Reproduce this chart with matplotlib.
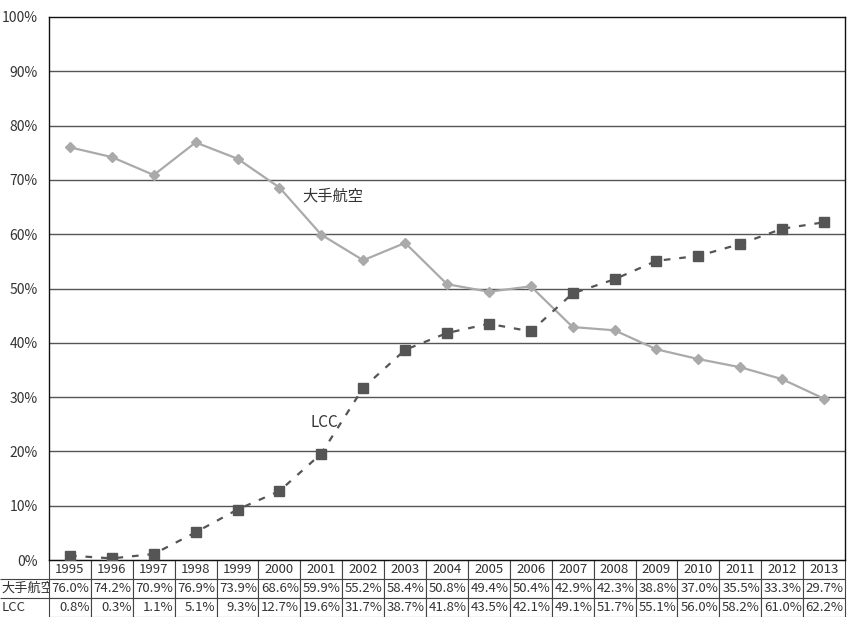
import matplotlib
matplotlib.use("Agg")
import matplotlib.pyplot as plt
from matplotlib.table import Table

plt.rcParams['font.family'] = ['Noto Sans CJK JP', 'DejaVu Sans']

years = [str(y) for y in range(1995, 2014)]
major = [76.0, 74.2, 70.9, 76.9, 73.9, 68.6, 59.9, 55.2, 58.4, 50.8, 49.4, 50.4,
         42.9, 42.3, 38.8, 37.0, 35.5, 33.3, 29.7]
lcc = [0.8, 0.3, 1.1, 5.1, 9.3, 12.7, 19.6, 31.7, 38.7, 41.8, 43.5, 42.1,
       49.1, 51.7, 55.1, 56.0, 58.2, 61.0, 62.2]
row_labels = ['大手航空', 'LCC']
yticks = [0, 10, 20, 30, 40, 50, 60, 70, 80, 90, 100]

W, H = 852, 617
fig = plt.figure(figsize=(W / 100, H / 100), dpi=100)
L, R, T, B = 49, 845, 17, 560
ax = fig.add_axes([L / W, 1 - B / H, (R - L) / W, (B - T) / H])

x = list(range(len(years)))
ax.plot(x, major, color='#aaaaaa', lw=1.6, marker='D', ms=5, zorder=3)
ax.plot(x, lcc, color='#555555', lw=1.6, ls=(0, (3, 4)), marker='s', ms=6.5, zorder=3)

ax.set_xlim(-0.5, len(years) - 0.5)
ax.set_ylim(0, 100)
ax.set_yticks(yticks)
ax.set_yticklabels([f'{v}%' for v in yticks], fontsize=10, color='#333333')
ax.tick_params(axis='y', length=0, pad=8)
ax.set_xticks([])
for v in yticks[1:-1]:
    ax.axhline(v, color='#555555', lw=1.0, zorder=1)
for s in ['left', 'top', 'right', 'bottom']:
    ax.spines[s].set_color('#111111')
    ax.spines[s].set_linewidth(1.0)

ax.text(5.55, 67.0, row_labels[0], fontsize=11, color='#333333', va='center', ha='left')
ax.text(5.75, 25.4, row_labels[1], fontsize=11, color='#333333', va='center', ha='left')

# data table under the axes
axw = R - L
axh = B - T
tw = (R - 0)
th = H - B
tb = Table(ax, bbox=[-L / axw, -th / axh, tw / axw, th / axh])
lw0 = L
cw = axw / len(years)
rows = [[''] + years,
        [row_labels[0]] + [f'{v:.1f}%' for v in major],
        [row_labels[1]] + [f'{v:.1f}%' for v in lcc]]
for r, row in enumerate(rows):
    for c, txt in enumerate(row):
        w = lw0 if c == 0 else cw
        loc = 'left' if c == 0 else ('right' if r > 0 else 'center')
        cell = tb.add_cell(r, c, width=w, height=1, text=txt, loc=loc)
        cell.get_text().set_fontsize(9.5)
        cell.get_text().set_color('#333333')
        cell.set_edgecolor('#444444')
        cell.set_linewidth(0.8)
        cell.PAD = 0.03
        if c == 0:
            cell.visible_edges = '' if r == 0 else 'T'
tb.auto_set_font_size(False)
ax.add_table(tb)

fig.savefig('out.png', dpi=100)
